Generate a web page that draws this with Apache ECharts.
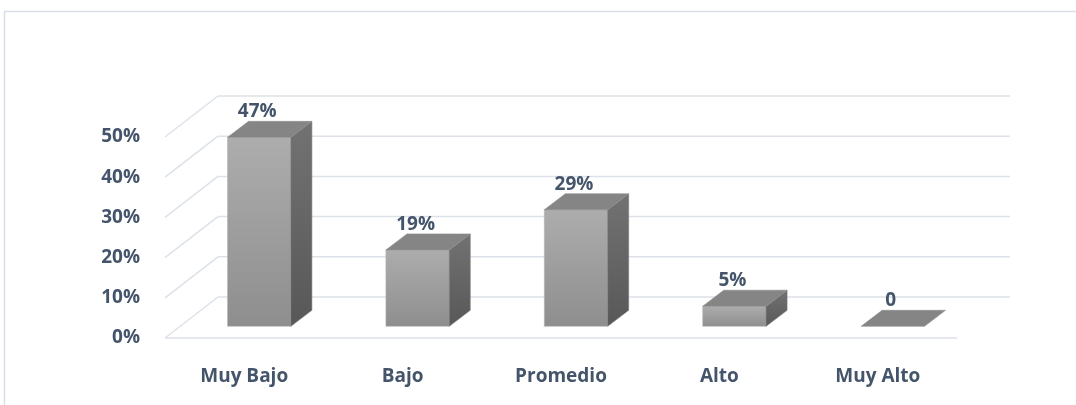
<!DOCTYPE html>
<html>
<head>
<meta charset="utf-8">
<script src="https://cdn.jsdelivr.net/npm/echarts@6/dist/echarts.min.js"></script>
<style>
html,body{margin:0;padding:0;background:#fff;}
#chart{width:1076px;height:405px;}
</style>
</head>
<body>
<div id="chart"></div>
<script>
const categories = ['Muy Bajo', 'Bajo', 'Promedio', 'Alto', 'Muy Alto'];
const values = [47, 19, 29, 5, 0];
const valueLabels = ['47%', '19%', '29%', '5%', '0'];
const yTicks = [0, 10, 20, 30, 40, 50];

const FONT = 'Open Sans';
const FS = 19;
const TXT = '#44546a';
const GRID_C = '#dde2e9';
// oblique projection offsets (pixels)
const WALL_DX = 53, WALL_DY = -41;    // floor front edge -> back wall
const BAR_DX = 15, BAR_DY = -11.7;    // floor front edge -> bar front face
const DEP_DX = 21, DEP_DY = -16;      // bar depth
const BAR_W = 0.4;

const chart = echarts.init(document.getElementById('chart'), null, {renderer: 'canvas'});

function gridItem(params, api) {
  const cs = params.coordSys;
  const y = api.coord([0, api.value(1)])[1];
  const x0 = cs.x, x1 = cs.x + cs.width;
  const ls = {stroke: GRID_C, lineWidth: 1.5};
  const children = [
    {type: 'line', shape: {x1: x0, y1: y, x2: x0 + WALL_DX, y2: y + WALL_DY}, style: ls},
    {type: 'line', shape: {x1: x0 + WALL_DX, y1: y + WALL_DY, x2: x1 + WALL_DX, y2: y + WALL_DY}, style: ls}
  ];
  if (api.value(1) === 0) {
    children.push({type: 'line', shape: {x1: x0, y1: y, x2: x1, y2: y}, style: ls});
  }
  return {type: 'group', children: children};
}

function barItem(params, api) {
  const idx = api.value(0);
  const top = api.coord([idx, api.value(1)]);
  const base = api.coord([idx, 0]);
  const bw = api.size([1, 0])[0] * BAR_W;
  const xl = top[0] - bw / 2 + BAR_DX, xr = top[0] + bw / 2 + BAR_DX;
  const yt = top[1] + BAR_DY, yb = base[1] + BAR_DY;
  const children = [];
  if (yb - yt > 0.5) {
    children.push({
      type: 'rect', shape: {x: xl, y: yt, width: xr - xl, height: yb - yt},
      style: {fill: new echarts.graphic.LinearGradient(0, 0, 0, 1, [{offset: 0, color: '#adadad'}, {offset: 1, color: '#8e8e8e'}]), stroke: '#b4b4b4', lineWidth: 0.6}
    });
    children.push({
      type: 'polygon', shape: {points: [[xr, yt], [xr + DEP_DX, yt + DEP_DY], [xr + DEP_DX, yb + DEP_DY], [xr, yb]]},
      style: {fill: new echarts.graphic.LinearGradient(0, 0, 0, 1, [{offset: 0, color: '#727272'}, {offset: 1, color: '#585858'}]), stroke: '#7a7a7a', lineWidth: 0.6}
    });
  }
  children.push({
    type: 'polygon', shape: {points: [[xl, yt], [xl + DEP_DX, yt + DEP_DY], [xr + DEP_DX, yt + DEP_DY], [xr, yt]]},
    style: {fill: '#858585', stroke: '#8e8e8e', lineWidth: 0.6}
  });
  children.push({
    type: 'text',
    style: {
      x: (xl + xr) / 2 - 2, y: yt + DEP_DY - 9.5,
      text: valueLabels[params.dataIndex],
      font: 'bold ' + FS + 'px "' + FONT + '"', fill: TXT,
      align: 'center', verticalAlign: 'middle'
    }
  });
  return {type: 'group', children: children};
}

chart.setOption({
  animation: false,
  backgroundColor: '#fff',
  graphic: [{
    type: 'rect', shape: {x: 4.5, y: 11.5, width: 1200, height: 500},
    style: {fill: 'none', stroke: '#d9dee6', lineWidth: 1.5}, z: -10
  }],
  grid: {left: 165, right: 119, top: 137, bottom: 67},
  xAxis: {
    type: 'category', data: categories,
    axisLine: {show: false}, axisTick: {show: false}, splitLine: {show: false},
    axisLabel: {margin: 29, color: TXT, fontFamily: FONT, fontWeight: 'bold', fontSize: FS}
  },
  yAxis: {
    type: 'value', min: 0, max: 50, interval: 10,
    axisLine: {show: false}, axisTick: {show: false}, splitLine: {show: false},
    axisLabel: {margin: 25, formatter: '{value}%', color: TXT, fontFamily: FONT, fontWeight: 'bold', fontSize: FS, padding: [3, 0, 0, 0]}
  },
  series: [
    {type: 'custom', renderItem: gridItem, data: yTicks.map(t => [0, t]), z: 1, silent: true},
    {type: 'custom', renderItem: barItem, data: values.map((v, i) => [i, v]), z: 2}
  ]
});
</script>
</body>
</html>
